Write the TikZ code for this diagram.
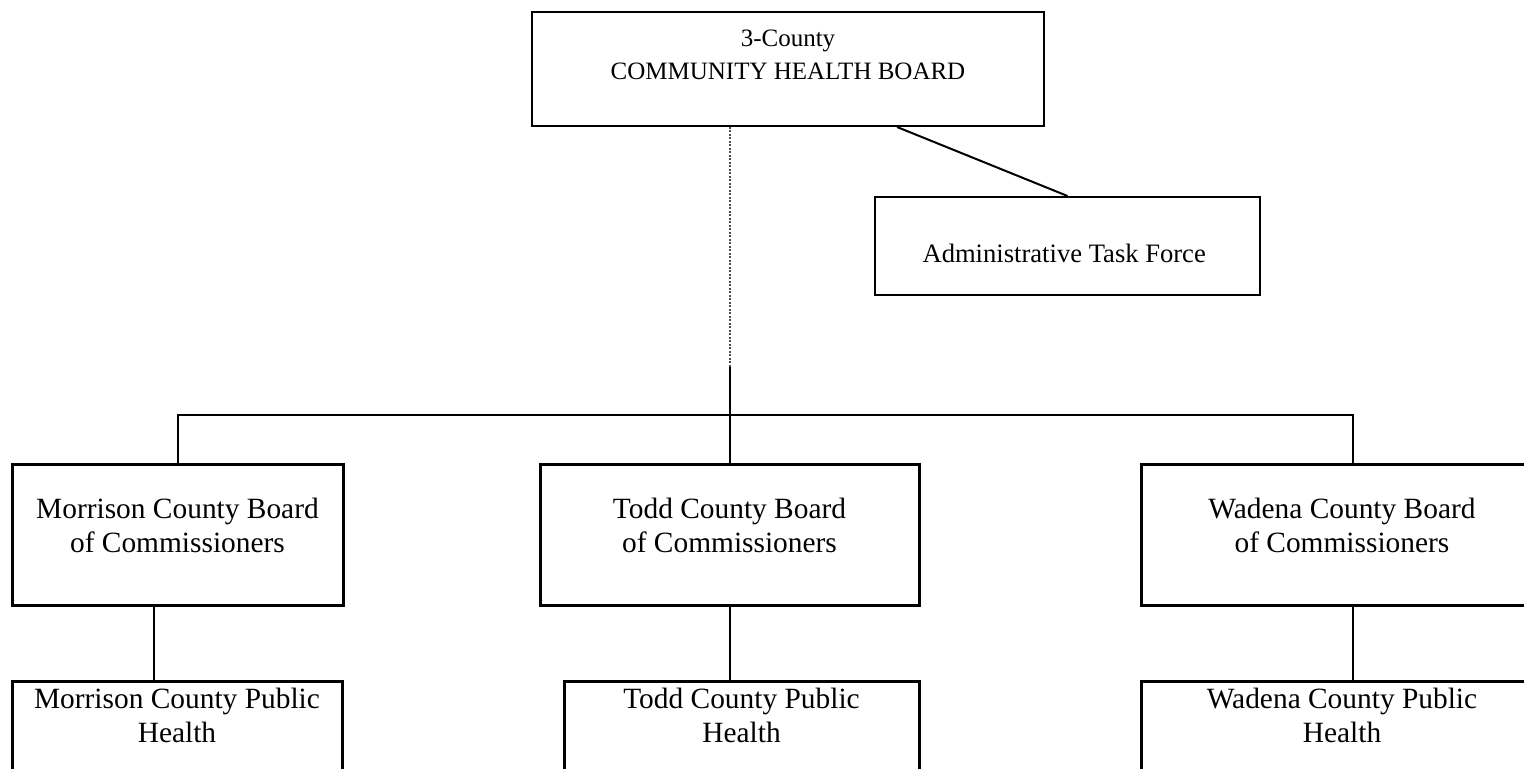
\documentclass[tikz,border=0pt]{standalone}
\usepackage{fontspec}
\setmainfont{Liberation Serif}
\usetikzlibrary{calc}

\begin{document}
\begin{tikzpicture}[
  x=0.5pt, y=-0.5pt,
  every node/.style={font=\fontsize{14.7}{17}\selectfont},
  orgbox/.style={
    draw=black,
    line width=1.5pt,
    align=center,
    inner sep=0pt,
    minimum height=70pt
  },
  board/.style={orgbox, text height=27pt, text depth=10pt},
  health/.style={orgbox, text height=10pt, text depth=19pt},
  link/.style={line width=1pt}
]
\useasboundingbox (0,0) rectangle (1524,769);

% Community health board
\node[orgbox, line width=1pt, minimum width=256pt, minimum height=57pt,
  text height=21pt, text depth=10pt, font=\fontsize{12.5}{16.5}\selectfont] (chb) at (788,69) {
  3-County\\
  COMMUNITY HEALTH BOARD
};

% Task force
\node[orgbox, line width=1pt, minimum width=192.5pt, minimum height=49pt,
  text height=17pt, text depth=0pt, font=\fontsize{13.3}{16}\selectfont] (atf) at (1067.5,246) {
  Administrative Task Force
};

% County boards
\node[board, minimum width=165.5pt] (morBoard) at (177.5,535) {
  Morrison County Board\\of Commissioners
};
\node[board, minimum width=189.5pt] (toddBoard) at (729.5,535) {
  Todd County Board\\of Commissioners
};
\node[board, minimum width=201pt] (wadBoard) at (1342,535) {
  Wadena County Board\\of Commissioners
};

% Public health
\node[health, minimum width=165pt] (morPH) at (177,751) {
  Morrison County Public\\Health
};
\node[health, minimum width=177.5pt] (toddPH) at (741.5,751) {
  Todd County Public\\Health
};
\node[health, minimum width=201pt] (wadPH) at (1342,751) {
  Wadena County Public\\Health
};

% Links
\coordinate (junction) at (730,367);
\coordinate (bus) at (730,415);
\coordinate (morLink) at (154,605);
\coordinate (wadLink) at (1353,465);

\draw[black!70, line width=1pt, dash pattern=on 1pt off 0.75pt] (junction |- chb.south) -- (junction);
\draw[link] (junction) -- (junction |- toddBoard.north);
\draw[link] (morBoard.north) |- (bus) -| (wadLink);
\draw[link] ($(chb.south)+(109,0)$) -- (atf.north);

\draw[link] (morBoard.south -| morLink) -- (morPH.north -| morLink);
\draw[link] (toddBoard.south) -- (toddBoard.south |- toddPH.north);
\draw[link] (wadBoard.south -| wadLink) -- (wadPH.north -| wadLink);
\end{tikzpicture}
\end{document}
